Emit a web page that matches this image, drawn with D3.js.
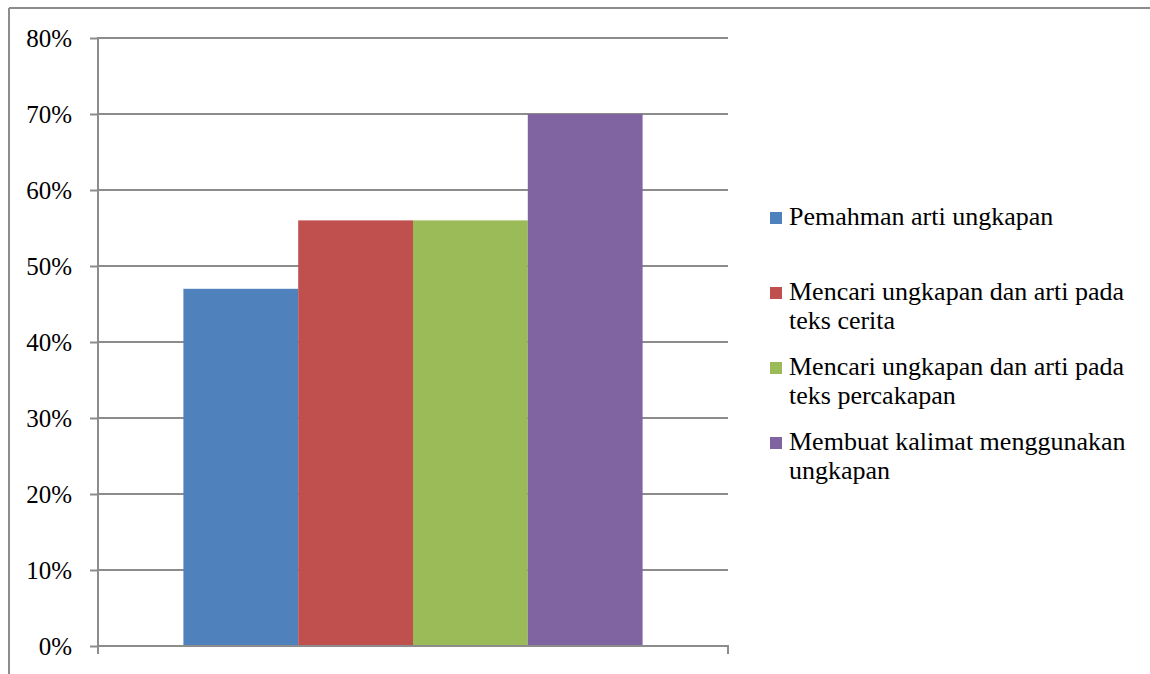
<!DOCTYPE html>
<html>
<head>
<meta charset="utf-8">
<script src="https://cdn.jsdelivr.net/npm/d3@7"></script>
<style>
  html, body { margin: 0; padding: 0; background: #fff; }
  svg { display: block; }
</style>
</head>
<body>
<svg id="chart" width="1150" height="674"></svg>
<script>
const categories = [""];
const seriesNames = [
  "Pemahman arti ungkapan",
  "Mencari ungkapan dan arti pada teks cerita",
  "Mencari ungkapan dan arti pada teks percakapan",
  "Membuat kalimat menggunakan ungkapan"
];
const legendLines = [
  ["Pemahman arti ungkapan"],
  ["Mencari ungkapan dan arti pada", "teks cerita"],
  ["Mencari ungkapan dan arti pada", "teks percakapan"],
  ["Membuat kalimat menggunakan", "ungkapan"]
];
const seriesValues = [0.47, 0.56, 0.56, 0.70];
const seriesColors = ["#4F81BD", "#C0504D", "#9BBB59", "#8064A2"];
const tickValues = [0, 0.1, 0.2, 0.3, 0.4, 0.5, 0.6, 0.7, 0.8];
const tickLabels = ["0%", "10%", "20%", "30%", "40%", "50%", "60%", "70%", "80%"];

const FONT = "Liberation Serif";
const svg = d3.select("#chart");
const gridColor = "#8c8c8c";

// outer frame (top and left only visible)
svg.append("line").attr("x1", 9).attr("x2", 1150).attr("y1", 8).attr("y2", 8)
  .attr("stroke", gridColor).attr("stroke-width", 2);
svg.append("line").attr("x1", 9).attr("x2", 9).attr("y1", 8).attr("y2", 674)
  .attr("stroke", gridColor).attr("stroke-width", 2);

const plot = { left: 98, right: 728, top: 38, bottom: 646 };

const y = d3.scaleLinear().domain([0, 0.8]).range([plot.bottom, plot.top]);
const x0 = d3.scaleBand().domain(categories).range([plot.left, plot.right])
  .paddingInner(0).paddingOuter(0.186);
const x1 = d3.scaleBand().domain(d3.range(seriesNames.length)).range([0, x0.bandwidth()]).padding(0);

// gridlines
svg.append("g").selectAll("line").data(tickValues).join("line")
  .attr("x1", plot.left).attr("x2", plot.right)
  .attr("y1", d => y(d)).attr("y2", d => y(d))
  .attr("stroke", gridColor).attr("stroke-width", 2);

// bars
const g = svg.append("g");
categories.forEach(c => {
  g.selectAll("rect.s").data(seriesValues).join("rect")
    .attr("x", (d, i) => x0(c) + x1(i))
    .attr("width", x1.bandwidth())
    .attr("y", d => y(d))
    .attr("height", d => y(0) - y(d))
    .attr("fill", (d, i) => seriesColors[i]);
});

// y axis
const yAxis = d3.axisLeft(y).tickValues(tickValues)
  .tickFormat((d, i) => tickLabels[i]).tickSize(8).tickPadding(18);
const ya = svg.append("g").attr("transform", `translate(${plot.left},0)`).call(yAxis)
  .attr("font-family", FONT).attr("font-size", 25);
ya.select(".domain").remove();
ya.selectAll(".tick line").attr("stroke", gridColor).attr("stroke-width", 2);
ya.selectAll(".tick text").attr("fill", "#000");
svg.append("line").attr("x1", plot.left).attr("x2", plot.left)
  .attr("y1", plot.top - 1).attr("y2", plot.bottom + 8)
  .attr("stroke", gridColor).attr("stroke-width", 2);

// x axis line with boundary ticks
svg.append("line").attr("x1", plot.left).attr("x2", plot.right)
  .attr("y1", y(0)).attr("y2", y(0)).attr("stroke", gridColor).attr("stroke-width", 2);
svg.append("line").attr("x1", plot.right).attr("x2", plot.right)
  .attr("y1", y(0) - 1).attr("y2", y(0) + 8).attr("stroke", gridColor).attr("stroke-width", 2);

// legend
const legendBaselines = [225, 300, 375, 450];
const lineH = 29;
const lg = svg.append("g").attr("font-family", FONT).attr("font-size", 26);
legendLines.forEach((lines, i) => {
  lg.append("rect").attr("x", 770).attr("y", legendBaselines[i] - 13)
    .attr("width", 12).attr("height", 12).attr("fill", seriesColors[i]);
  const t = lg.append("text").attr("x", 789).attr("y", legendBaselines[i]).attr("fill", "#000");
  lines.forEach((ln, j) => {
    t.append("tspan").attr("x", 789).attr("y", legendBaselines[i] + j * lineH).text(ln);
  });
});
</script>
</body>
</html>
